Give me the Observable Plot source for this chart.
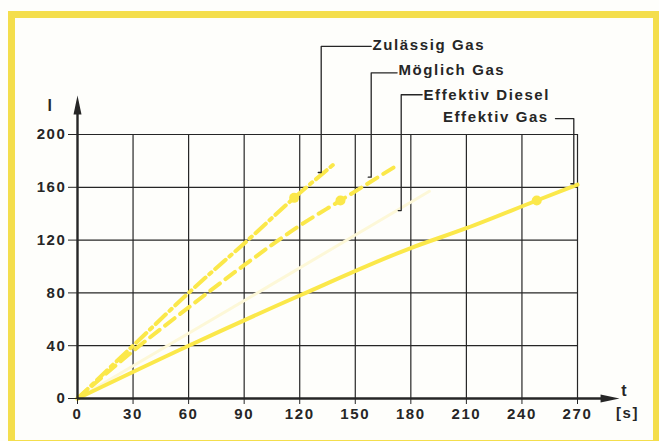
<!DOCTYPE html>
<html>
<head>
<meta charset="utf-8">
<script src="https://cdn.jsdelivr.net/npm/d3@7"></script>
<script src="https://cdn.jsdelivr.net/npm/@observablehq/plot@0.6"></script>
<style>
  html, body { margin: 0; padding: 0; background: #fefefb; overflow: hidden; }
  #wrap { position: relative; width: 659px; height: 441px; }
  #frame { position: absolute; left: 8px; top: 11px; width: 652px; height: 436px; box-sizing: border-box;
           border: 7px solid #f4de4c; pointer-events: none; }
  #chart svg { position: absolute; left: 0; top: 0; }
  #chart svg text { letter-spacing: 1.6px; }
</style>
</head>
<body>
<div id="wrap"><div id="chart"></div><div id="frame"></div></div>
<script>
// ---- data ----
const xTicks = [0, 30, 60, 90, 120, 150, 180, 210, 240, 270];
const yTicks = [0, 40, 80, 120, 160, 200];

const seriesNames = ["Zulässig Gas", "Möglich Gas", "Effektiv Diesel", "Effektiv Gas"];

const zulT = [0, 30, 60, 92, 117, 138];
const zulV = [0, 40, 80, 120, 152, 177];

const mogT = [0, 30, 60, 90, 120, 142, 173];
const mogV = [0, 36, 69, 101, 131, 150, 177];

const dieT = [0, 102, 190];
const dieV = [0, 84, 157];

const gasT = [0, 60, 120, 180, 210, 248, 270];
const gasV = [0, 40, 78, 114, 129, 150, 162];

const markT = [117, 142, 248];
const markV = [152, 150, 150];

// annotation label anchors and leader paths (data coordinates)
const labelX = [158.8, 172.8, 186.3, 254.5];
const labelY = [267.4, 248.5, 229.5, 212.9];
const labelAnchor = ["start", "start", "start", "end"];
const leaders = [
  [[158.6, 266.7], [131.6, 266.7], [131.6, 171.2], [130.0, 171.2]],
  [[172.6, 246.7], [158.6, 246.7], [158.6, 167.7], [157.0, 167.7]],
  [[186.1, 230.1], [174.8, 230.1], [174.8, 142.4], [173.2, 142.4]],
  [[258.1, 212.1], [268.0, 212.1], [268.0, 162.7], [266.4, 162.7]]
];

// ---- build tables ----
const toRows = (T, V) => T.map((t, i) => ({t, v: V[i]}));
const zul = toRows(zulT, zulV);
const mog = toRows(mogT, mogV);
const die = toRows(dieT, dieV);
const gas = toRows(gasT, gasV);
const marks = toRows(markT, markV);
const labels = seriesNames.map((name, i) => ({name, x: labelX[i], y: labelY[i], anchor: labelAnchor[i]}));
const leaderRows = leaders.flatMap((pts, i) => pts.map(([x, y]) => ({id: i, x, y})));

const yellow = "#fbe84a";
const ink = "#262626";
const font = "Liberation Sans, Arial, sans-serif";

const arrowHead = {
  draw(ctx) { ctx.moveTo(0, 0); ctx.lineTo(4, 19); ctx.lineTo(-4, 19); ctx.closePath(); }
};

const chart = Plot.plot({
  width: 659,
  height: 441,
  marginLeft: 77, marginRight: 82, marginTop: 134, marginBottom: 43,
  x: {domain: [0, 270], range: [77, 577]},
  y: {domain: [0, 200], range: [398, 134]},
  style: {fontFamily: font, fontSize: "15px", color: ink, background: "transparent", overflow: "visible"},
  marks: [
    // grid
    Plot.ruleX(xTicks.slice(1), {y1: 0, y2: 200, stroke: ink, strokeWidth: 1.2}),
    Plot.ruleY(yTicks.slice(1), {x1: 0, x2: 270, stroke: ink, strokeWidth: 1.2}),
    // series
    Plot.line(die, {x: "t", y: "v", stroke: "#fdf8d8", strokeWidth: 3}),
    Plot.line(gas, {x: "t", y: "v", stroke: yellow, strokeWidth: 4, curve: "monotone-x"}),
    Plot.line(mog, {x: "t", y: "v", stroke: yellow, strokeWidth: 4, strokeDasharray: "12,7", curve: "monotone-x"}),
    Plot.line(zul, {x: "t", y: "v", stroke: yellow, strokeWidth: 4, strokeDasharray: "14,5,3,5", curve: "monotone-x"}),
    Plot.dot(marks, {x: "t", y: "v", r: 5, fill: yellow}),
    // axes lines + arrows
    Plot.ruleY([0], {x1: 0, x2: 285, stroke: ink, strokeWidth: 2.4}),
    Plot.ruleX([0], {y1: 0, y2: 218, stroke: ink, strokeWidth: 2.4}),
    Plot.dot([{x: 292.7, y: 0}], {x: "x", y: "y", symbol: arrowHead, fill: ink, stroke: "none", rotate: 90}),
    Plot.dot([{x: 0, y: 229.5}], {x: "x", y: "y", symbol: arrowHead, fill: ink, stroke: "none"}),
    Plot.axisX(xTicks, {tickSize: 6, tickPadding: 4, fontSize: 15, fontWeight: "bold", stroke: ink, fill: ink, label: null}),
    Plot.axisY(yTicks, {tickSize: 9, tickPadding: 2, fontSize: 15, fontWeight: "bold", stroke: ink, fill: ink, label: null}),
    Plot.text(["l"], {x: -14.6, y: 222, fontSize: 16, fontWeight: "bold", fill: ink}),
    Plot.text(["t"], {x: 295.5, y: 6, fontSize: 16, fontWeight: "bold", fill: ink}),
    Plot.text(["[s]"], {x: 297, y: -11, fontSize: 15, fontWeight: "bold", fill: ink}),
    // annotations
    Plot.line(leaderRows, {x: "x", y: "y", z: "id", stroke: ink, strokeWidth: 1.3}),
    Plot.text(labels.filter(d => d.anchor === "start"), {x: "x", y: "y", text: "name", textAnchor: "start", dx: 1, fontSize: 15, fontWeight: "bold", fill: ink}),
    Plot.text(labels.filter(d => d.anchor === "end"), {x: "x", y: "y", text: "name", textAnchor: "end", fontSize: 15, fontWeight: "bold", fill: ink})
  ]
});
document.getElementById("chart").appendChild(chart);
</script>
</body>
</html>
